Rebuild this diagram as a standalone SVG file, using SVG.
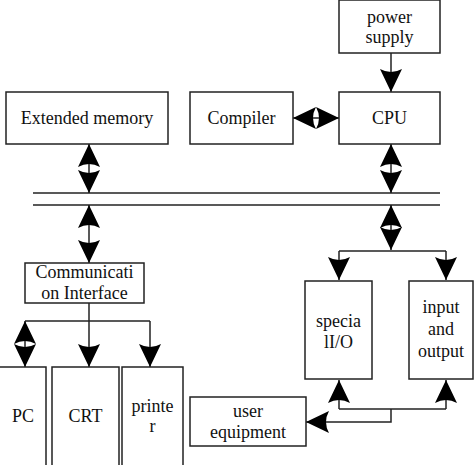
<svg xmlns="http://www.w3.org/2000/svg" width="474" height="465" viewBox="0 0 474 465">
<defs>
<marker id="ah" markerUnits="userSpaceOnUse" viewBox="-24 -12 25 24" refX="0" refY="0" markerWidth="25" markerHeight="24" orient="auto-start-reverse">
<path d="M0,0 L-23,-11 Q-17,0 -23,11 Z" fill="#000"/>
</marker>
<style>
.box{fill:#fff;stroke:#222;stroke-width:1.5}
.ln{fill:none;stroke:#222;stroke-width:1.5}
.t{font-family:"Liberation Serif","Times New Roman",serif;font-size:18px;fill:#111;text-anchor:middle}
.a1{marker-end:url(#ah)}
.a2{marker-start:url(#ah);marker-end:url(#ah)}
</style>
</defs>
<rect width="474" height="465" fill="#fff"/>
<g id="connectors">
<line class="ln" x1="33" y1="193" x2="440" y2="193"/>
<line class="ln" x1="33" y1="205" x2="440" y2="205"/>
<line class="ln a1" x1="391" y1="53" x2="391" y2="92"/>
<line class="ln a2" x1="293" y1="118" x2="339" y2="118"/>
<line class="ln a2" x1="89" y1="144" x2="89" y2="193"/>
<line class="ln a2" x1="391" y1="144" x2="391" y2="193"/>
<line class="ln a2" x1="89" y1="205" x2="89" y2="263"/>
<line class="ln a2" x1="391" y1="205" x2="391" y2="250"/>
<line class="ln a1" x1="89" y1="303" x2="89" y2="367"/>
<polyline class="ln" points="25,321 150,321"/>
<line class="ln a2" x1="25" y1="321" x2="25" y2="367"/>
<line class="ln a1" x1="150" y1="321" x2="150" y2="367"/>
<polyline class="ln" points="339,251 446,251"/>
<line class="ln a1" x1="339" y1="251" x2="339" y2="280"/>
<line class="ln a1" x1="446" y1="251" x2="446" y2="280"/>
<polyline class="ln" points="339,409 446,409"/>
<line class="ln a1" x1="339" y1="409" x2="339" y2="380"/>
<line class="ln a1" x1="446" y1="409" x2="446" y2="380"/>
<polyline class="ln a1" points="391,409 391,422 306,422"/>
</g>
<g id="power-supply">
<rect class="box" x="339" y="0" width="101" height="53"/>
<text class="t" x="389.5" y="23">power</text>
<text class="t" x="389.5" y="43">supply</text>
</g>
<g id="extended-memory">
<rect class="box" x="6" y="92" width="162" height="52"/>
<text class="t" x="87" y="124">Extended memory</text>
</g>
<g id="compiler">
<rect class="box" x="190" y="92" width="103" height="52"/>
<text class="t" x="241.5" y="124">Compiler</text>
</g>
<g id="cpu">
<rect class="box" x="339" y="92" width="101" height="52"/>
<text class="t" x="389.5" y="124">CPU</text>
</g>
<g id="communication-interface">
<rect class="box" x="25" y="263" width="119" height="40"/>
<text class="t" x="84.5" y="278">Communicati</text>
<text class="t" x="84.5" y="299">on Interface</text>
</g>
<g id="pc">
<rect class="box" x="-2" y="367" width="48" height="105"/>
<text class="t" x="23" y="422">PC</text>
</g>
<g id="crt">
<rect class="box" x="52" y="367" width="67" height="105"/>
<text class="t" x="85.5" y="422">CRT</text>
</g>
<g id="printer">
<rect class="box" x="122" y="367" width="61" height="105"/>
<text class="t" x="152.5" y="412">printe</text>
<text class="t" x="152.5" y="432">r</text>
</g>
<g id="user-equipment">
<rect class="box" x="190" y="397" width="116" height="49"/>
<text class="t" x="248" y="417">user</text>
<text class="t" x="248" y="438">equipment</text>
</g>
<g id="special-io">
<rect class="box" x="305" y="281" width="67" height="98"/>
<text class="t" x="338.5" y="327">specia</text>
<text class="t" x="338.5" y="348">lI/O</text>
</g>
<g id="input-output">
<rect class="box" x="409" y="281" width="64" height="98"/>
<text class="t" x="441" y="313">input</text>
<text class="t" x="441" y="335">and</text>
<text class="t" x="441" y="357">output</text>
</g>
</svg>
